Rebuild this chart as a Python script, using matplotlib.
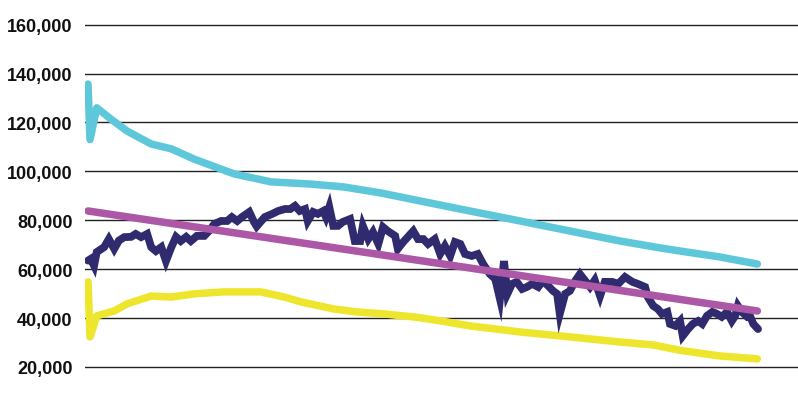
import matplotlib
matplotlib.use("Agg")
import matplotlib.pyplot as plt
import matplotlib.ticker as mticker

# values in thousands, x in periods
y_ticks = [20, 40, 60, 80, 100, 120, 140, 160]

cyan_x = [0, 0.3, 1.3, 3.4, 5.8, 9.4, 12.4, 15.8, 21.7, 27.2, 33.2, 38.1, 43.5,
          49.4, 56.8, 64.3, 71.7, 79.2, 85.1, 89.1, 94.0, 99.6]
cyan_y = [135.7, 113, 126, 121.4, 116.5, 111.2, 109.2, 105, 99, 95.7, 94.8, 93.6,
          91.2, 87.9, 83.8, 79.7, 75.6, 71.5, 68.7, 67, 65, 62.1]

yellow_x = [0, 0.3, 1.3, 3.9, 5.8, 9.4, 12.4, 15.8, 20.2, 25.7, 29.2, 31.7, 36.6,
            40.0, 44.0, 49.0, 53.0, 56.8, 64.3, 71.7, 79.2, 84.1, 88.1, 94.0, 99.6]
yellow_y = [54.8, 32.3, 40.9, 42.9, 45.8, 49, 48.6, 49.9, 50.7, 50.7, 48.6, 46.6,
            43.7, 42.5, 41.7, 40.3, 38.6, 36.8, 34.3, 32.3, 30.2, 29, 26.8, 24.5, 23.3]

trend_x = [0, 99.6]
trend_y = [83.8, 42.9]

navy_x = [0, 0.4, 0.9, 1.3, 2.4, 3.1, 3.9, 4.6, 5.4, 6.4, 7.1, 7.9, 8.8, 9.4, 10.1,
          10.9, 11.6, 12.4, 13.1, 13.8, 14.6, 15.3, 16.2, 17.3, 18.0, 18.8, 19.8,
          20.7, 21.4, 22.2, 22.9, 24.0, 24.7, 25.1, 26.3, 27.4, 28.3, 29.3, 30.1,
          30.8, 31.5, 32.3, 32.7, 33.5, 34.2, 35.0, 35.4, 35.9, 36.5, 37.2, 37.9,
          39.0, 39.7, 40.5, 40.9, 41.7, 42.4, 43.2, 43.9, 44.6, 45.7, 46.1, 46.9,
          47.6, 48.4, 49.1, 49.9, 50.6, 51.6, 52.4, 53.1, 53.9, 54.6, 55.4, 56.1,
          57.1, 58.0, 58.8, 59.8, 60.6, 61.3, 61.9, 62.4, 63.1, 63.8, 64.6, 65.3,
          66.1, 67.0, 67.7, 68.5, 69.2, 69.8, 70.2, 71.0, 71.7, 72.5, 73.2, 74.0,
          74.7, 75.4, 76.2, 76.9, 78.0, 78.9, 79.9, 81.0, 81.8, 82.9, 83.3, 84.1,
          84.8, 85.4, 86.2, 86.6, 87.4, 88.1, 88.5, 89.3, 90.0, 90.8, 91.4, 92.1,
          92.9, 93.6, 94.3, 95.1, 95.8, 96.3, 96.7, 97.3, 98.1, 98.5, 99.0, 99.7]
navy_y = [63.5, 64.2, 61.4, 67, 69, 72.3, 68.3, 71.7, 73.1, 73.2, 74.4, 73.1, 74.4,
          69, 67.4, 69, 63.3, 69, 73.2, 71.5, 73.2, 71.5, 73.6, 73.6, 75.6, 78.5,
          79.7, 79.7, 81.3, 79.7, 81.3, 83.4, 79.3, 77.5, 81.3, 82.6, 83.8, 84.6,
          84.6, 85.9, 83.8, 84.6, 79.7, 83.4, 82.6, 83.8, 81.3, 85.4, 77.7, 77.7,
          79.3, 80.5, 71.5, 71.5, 77.7, 72.3, 75.2, 70.3, 77.2, 75.6, 73.6, 68.3,
          71.1, 73.2, 75.6, 72.3, 72.3, 70.3, 72.3, 66.2, 69.5, 65.4, 71.1, 70.3,
          66.2, 65.4, 66.2, 62.1, 58, 56, 47.8, 63.3, 49.9, 54, 54.8, 51.9, 52.7,
          54, 52.7, 55.2, 53.1, 51.1, 49.9, 41.7, 49.9, 51.1, 55.2, 58, 55.2, 52.7,
          55.5, 49, 54.8, 54.8, 54, 56.8, 54.8, 54, 52.7, 48.6, 45, 43.7, 41.7,
          42.5, 37.6, 36.8, 38.8, 32.7, 35.5, 37.6, 38.8, 37.6, 40.9, 42.5, 41.7,
          40.5, 42.5, 38.8, 40.9, 45, 42.5, 40.5, 40.9, 37.6, 35.5]

fig = plt.figure(figsize=(7.98, 4.10), dpi=100)
ax = fig.add_axes([0.1065, 0, 0.8935, 1])

ax.plot(cyan_x, cyan_y, color="#5ec8da", lw=5.4, solid_capstyle="round", zorder=3)
ax.plot(yellow_x, yellow_y, color="#eee62c", lw=5.4, solid_capstyle="round", zorder=3)
ax.plot(navy_x, navy_y, color="#2f2b6e", lw=5.6, solid_capstyle="round",
        solid_joinstyle="miter", zorder=4)
ax.plot(trend_x, trend_y, color="#ac58a6", lw=5.4, solid_capstyle="round", zorder=5)

ax.set_xlim(-0.45, 105.65)
ax.set_ylim(2.8, 170.5)
ax.set_yticks(y_ticks)
ax.yaxis.set_major_formatter(mticker.FuncFormatter(lambda v, p: f"{int(v * 1000):,}"))
ax.set_xticks([])
ax.grid(True, axis="y", color="#222222", lw=1.0)
ax.set_axisbelow(True)
ax.tick_params(axis="y", length=0, pad=9)
for lab in ax.get_yticklabels():
    lab.set_family(["Liberation Sans", "DejaVu Sans"])
    lab.set_fontweight("bold")
    lab.set_fontsize(13)
    lab.set_color("#111111")
for s in ax.spines.values():
    s.set_visible(False)

fig.savefig("out.png", dpi=100)
